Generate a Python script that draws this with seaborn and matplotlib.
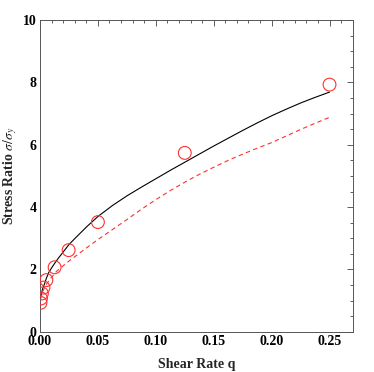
import matplotlib
matplotlib.use("Agg")
import matplotlib.pyplot as plt
from matplotlib.ticker import MultipleLocator
import seaborn as sns

# Simulation points (open red circles)
q_points = [0.0004, 0.0008, 0.0016, 0.003, 0.0055, 0.0126, 0.0247, 0.050, 0.125, 0.25]
s_points = [0.93, 1.07, 1.23, 1.42, 1.66, 2.07, 2.62, 3.52, 5.74, 7.93]

# Solid black curve
q_solid = [0.001, 0.002, 0.003, 0.004, 0.0055, 0.0075, 0.01, 0.0125, 0.016, 0.02, 0.025,
           0.03, 0.04, 0.05, 0.0625, 0.075, 0.0875, 0.1, 0.1125, 0.125, 0.1375, 0.15,
           0.1625, 0.175, 0.1875, 0.2, 0.2125, 0.225, 0.2375, 0.25]
s_solid = [1.18, 1.35, 1.46, 1.55, 1.72, 1.90, 2.05, 2.19, 2.37, 2.56, 2.80,
           2.99, 3.36, 3.70, 4.05, 4.36, 4.64, 4.91, 5.18, 5.44, 5.70, 5.96,
           6.21, 6.46, 6.70, 6.93, 7.14, 7.34, 7.52, 7.69]

# Dashed red curve
q_dash = [0.0005, 0.002, 0.003, 0.005, 0.0075, 0.01, 0.014, 0.02, 0.025, 0.03, 0.04,
          0.05, 0.0625, 0.075, 0.0875, 0.1, 0.1125, 0.125, 0.1375, 0.15, 0.1625,
          0.175, 0.1875, 0.2, 0.2125, 0.225, 0.2375, 0.25]
s_dash = [1.05, 1.25, 1.35, 1.50, 1.63, 1.75, 1.93, 2.12, 2.27, 2.41, 2.69,
          2.96, 3.28, 3.60, 3.93, 4.24, 4.53, 4.80, 5.05, 5.28, 5.50,
          5.70, 5.89, 6.07, 6.28, 6.49, 6.69, 6.88]

x_ticks = [0.00, 0.05, 0.10, 0.15, 0.20, 0.25]
y_ticks = [0, 2, 4, 6, 8, 10]

sns.set_theme(style="white")
plt.rcParams['font.family'] = ['Liberation Serif', 'DejaVu Serif']
plt.rcParams['mathtext.fontset'] = 'stix'

fig = plt.figure(figsize=(3.74, 3.72), dpi=100)
ax = fig.add_axes([0.107, 0.108, 0.836, 0.838])

sns.lineplot(x=q_solid, y=s_solid, ax=ax, color="black", linewidth=0.8, sort=False)
sns.lineplot(x=q_dash, y=s_dash, ax=ax, color="#ff3030", linewidth=0.8, sort=False,
             linestyle=(0, (4, 3)))
sns.scatterplot(x=q_points, y=s_points, ax=ax, marker="o", s=85,
                facecolor="none", edgecolor="#ff3030", linewidth=0.8, zorder=3)

ax.set_xlim(0, 0.27)
ax.set_ylim(0, 10)
ax.set_xticks(x_ticks)
ax.set_xticklabels([f"{v:.2f}" for v in x_ticks])
ax.set_yticks(y_ticks)
ax.set_yticklabels([str(v) for v in y_ticks])
ax.xaxis.set_minor_locator(MultipleLocator(0.01))
ax.yaxis.set_minor_locator(MultipleLocator(0.5))
ax.tick_params(which="both", direction="in", top=True, right=True, colors="#444444",
               labelcolor="black", width=0.6)
ax.tick_params(which="major", length=4.5, labelsize=10, pad=2.5)
ax.tick_params(which="minor", length=2.5)
for lab in ax.get_xticklabels() + ax.get_yticklabels():
    lab.set_fontweight("bold")
for sp in ax.spines.values():
    sp.set_color("#555555")
    sp.set_linewidth(0.7)

ax.set_xlabel("Shear Rate q", fontsize=10, fontweight="bold", labelpad=7)
ax.set_ylabel(r"Stress Ratio $\sigma/\sigma_y$", fontsize=10, fontweight="bold", labelpad=3)

fig.savefig("out.png", dpi=100)
